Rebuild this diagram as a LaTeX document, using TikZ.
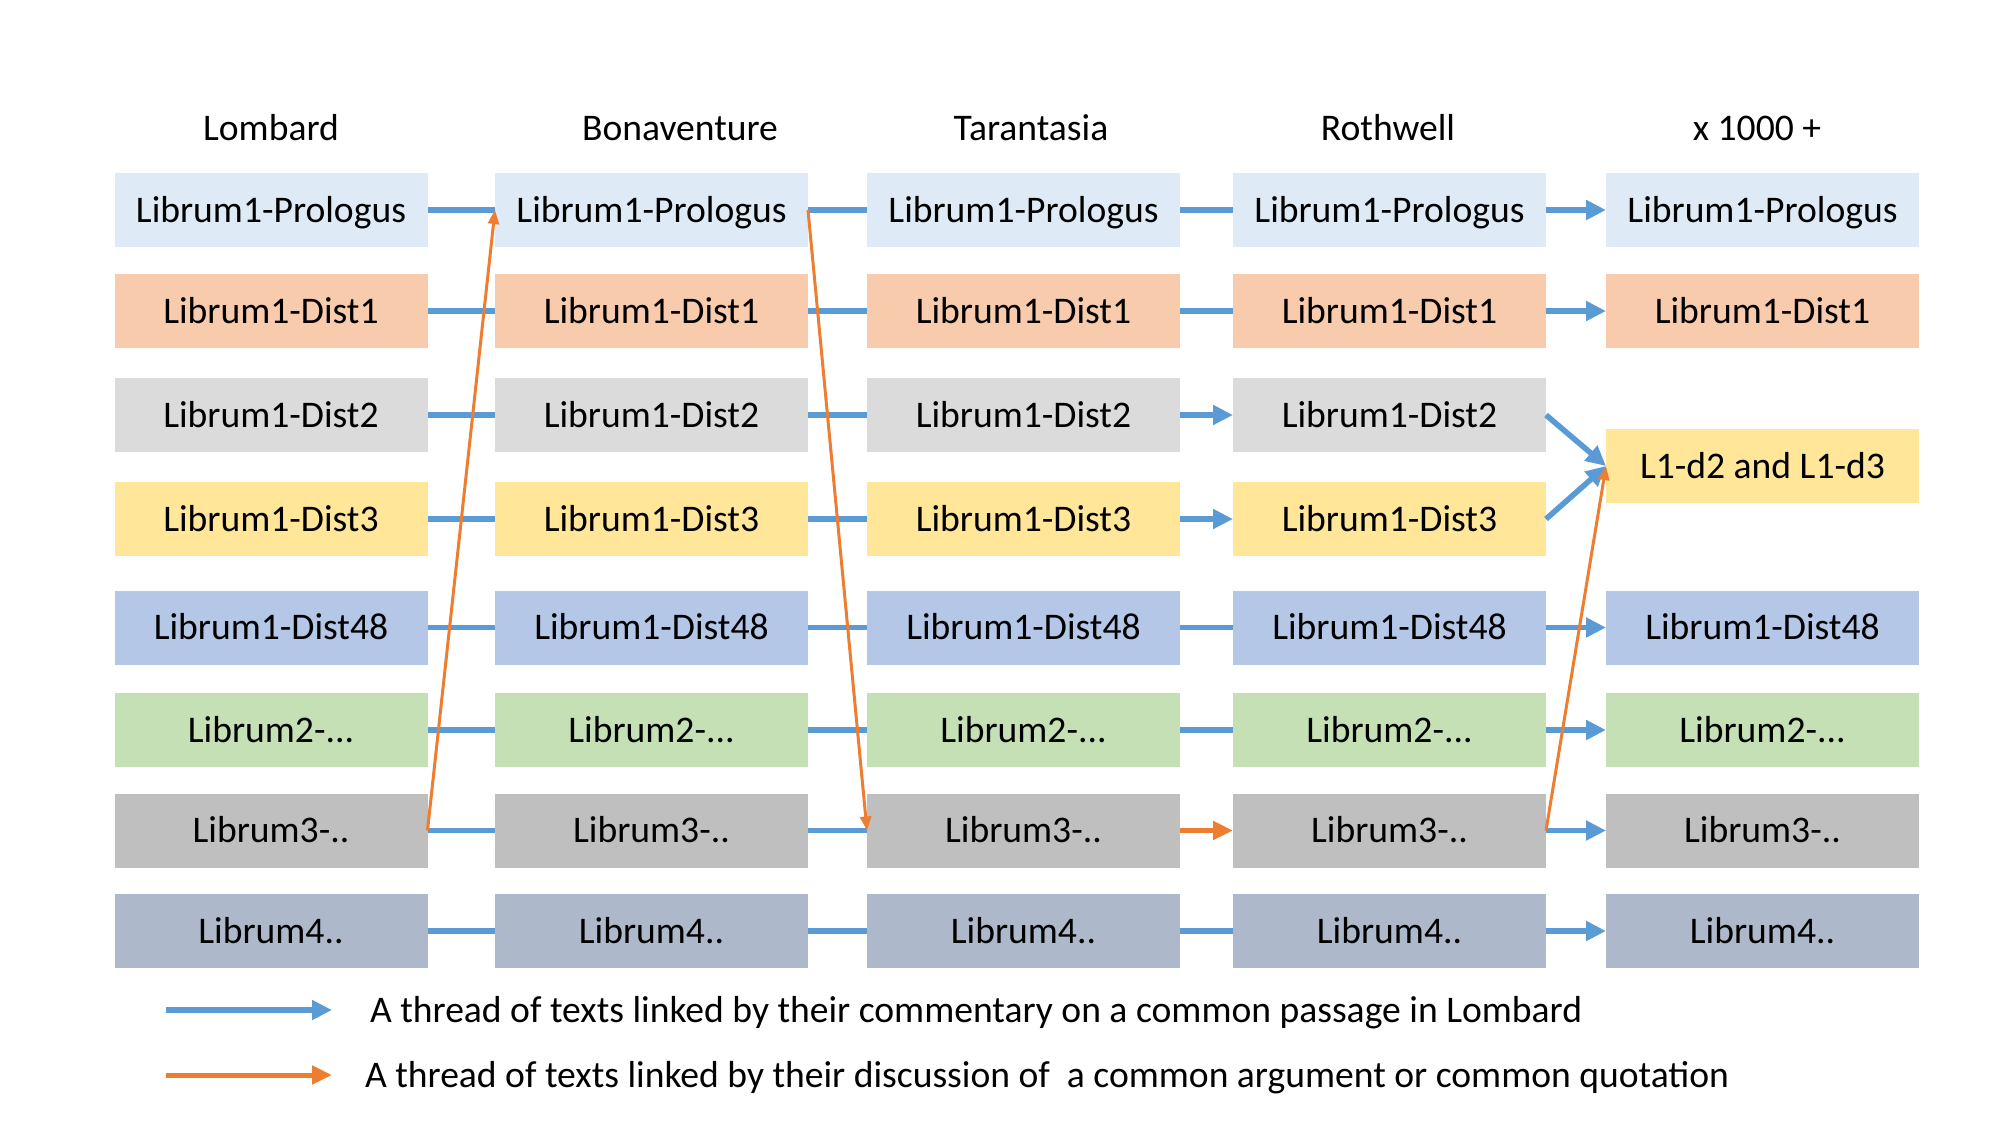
\documentclass[tikz,border=0pt]{standalone}
\usepackage{fontspec}
\setmainfont{Carlito}
\newcommand*{\boxfont}{\fontsize{10.7}{12.8}\selectfont}
\newcommand*{\librumB}{Librum2-...}
\newcommand*{\librumC}{Librum3-..}
\newcommand*{\librumD}{Librum4..}
\definecolor{P}{HTML}{DEEBF7}
\definecolor{DA}{HTML}{F8CBAD}
\definecolor{DB}{HTML}{DBDBDB}
\definecolor{DC}{HTML}{FFE699}
\definecolor{DF}{HTML}{B4C7E7}
\definecolor{LB}{HTML}{C5E0B4}
\definecolor{LC}{HTML}{BFBFBF}
\definecolor{LD}{HTML}{ADB9CA}
\definecolor{lineblue}{HTML}{5B9BD5}
\definecolor{lineorange}{HTML}{ED7D31}
\usepackage{tikz}
\usetikzlibrary{arrows.meta}
\usetikzlibrary{positioning}
\tikzstyle{base}=[inner sep=0pt, outer sep=0pt]
\tikzstyle{box}=[base, minimum width=3.13cm, minimum height=0.74cm, text height=0.24cm, text depth=0pt]
\tikzstyle{head}=[base, anchor=base]
\tikzstyle{legend}=[base, text height=0.24cm, text depth=0pt]
\tikzstyle{thread}=[line width=0.056cm, lineblue]
\tikzstyle{threadarrow}=[thread, -{Triangle[length=0.2cm, width=0.19cm]}]
\tikzstyle{quote}=[line width=0.03cm, lineorange, -{Triangle[length=0.14cm, width=0.11cm]}]
\tikzstyle{quotearrow}=[line width=0.05cm, lineorange, -{Triangle[length=0.2cm, width=0.18cm]}]

\begin{document}
\begin{tikzpicture}[base]
    \boxfont
        \path [use as bounding box] (0,0) rectangle (20,-11.25);
        % column heads
        \node [head] (hLom) at (2.71,-1.40) {Lombard};
        \node [head] (hBon) at (6.80,-1.40) {Bonaventure};
        \node [head] (hTar) at (10.31,-1.40) {Tarantasia};
        \node [head] (hRot) at (13.88,-1.40) {Rothwell};
        \node [head] (hMore) at (17.57,-1.40) {x 1000 +};
        % four full columns
        \foreach \r/\y/\c/\t in {1/2.10/P/Librum1-Prologus, 2/3.11/DA/Librum1-Dist1, 3/4.15/DB/Librum1-Dist2, 4/5.19/DC/Librum1-Dist3, 5/6.275/DF/Librum1-Dist48, 6/7.30/LB/\librumB, 7/8.305/LC/\librumC, 8/9.31/LD/\librumD}
        {
            \foreach \k/\x in {1/2.71, 2/6.515, 3/10.235, 4/13.895}
                \node [box, fill=\c] (n\k-\r) at (\x,-\y) {\t};
        }
        % last column
        \foreach \r/\y/\c/\t in {1/2.10/P/Librum1-Prologus, 2/3.11/DA/Librum1-Dist1, 5/6.275/DF/Librum1-Dist48, 6/7.30/LB/\librumB, 7/8.305/LC/\librumC, 8/9.31/LD/\librumD}
            \node [box, fill=\c] (n5-\r) at (17.625,-\y) {\t};
        \node [box, fill=DC] (n5-d) at (17.625,-4.66) {L1-d2 and L1-d3};
        % blue threads
        \foreach \r in {1,2,3,4,5,6,7,8} {
            \draw [thread] (n1-\r) -- (n2-\r);
            \draw [thread] (n2-\r) -- (n3-\r);
        }
        \foreach \r in {1,2,5,6,8}
            \draw [thread] (n3-\r) -- (n4-\r);
        \foreach \r in {3,4}
            \draw [threadarrow] (n3-\r) -- (n4-\r);
        \foreach \r in {1,2,5,6,7,8}
            \draw [threadarrow] (n4-\r) -- (n5-\r);
        \foreach \r in {3,4}
            \draw [threadarrow] (n4-\r.east) -- (n5-d.west);
        % orange threads
        \draw [quote] (n1-7.east) -- (n2-1.west);
        \draw [quote] (n2-1.east) -- (n3-7.west);
        \draw [quotearrow] (n3-7) -- (n4-7);
        \draw [quote] (n4-7.east) -- (n5-d.west);
        % legend
        \coordinate (blueA) at (1.66,-10.10);
        \coordinate (blueB) at (3.32,-10.10);
        \coordinate (orangeA) at (1.66,-10.75);
        \coordinate (orangeB) at (3.32,-10.75);
        \draw [threadarrow] (blueA) -- (blueB);
        \draw [quotearrow] (orangeA) -- (orangeB);
        \node [legend, right=0.38cm of blueB] (txtBlue) {A thread of texts linked by their commentary on a common passage in Lombard};
        \node [legend, right=0.33cm of orangeB] (txtOrange) {A thread of texts linked by their discussion of \ a common argument or common quotation};
    \end{tikzpicture}
\end{document}
